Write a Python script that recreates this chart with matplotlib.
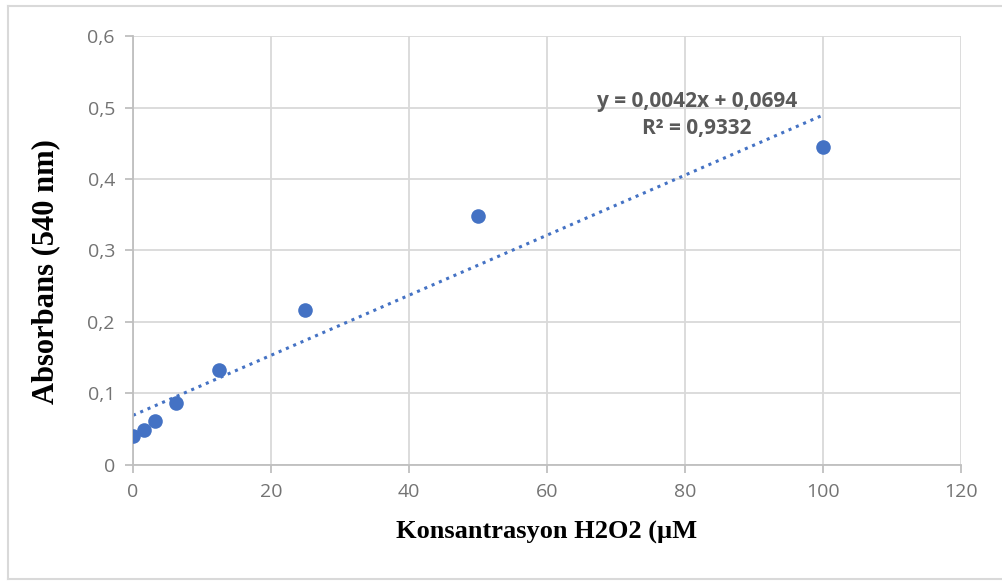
import matplotlib
matplotlib.use("Agg")
import matplotlib.pyplot as plt
from matplotlib.lines import Line2D
import numpy as np

# H2O2 standard curve
concentration = [0, 1.5625, 3.125, 6.25, 12.5, 25, 50, 100]
absorbance = [0.040, 0.049, 0.061, 0.087, 0.133, 0.217, 0.348, 0.445]
slope = 0.0042
intercept = 0.0694
r_squared = 0.9332

x_ticks = [0, 20, 40, 60, 80, 100, 120]
y_ticks = [0, 0.1, 0.2, 0.3, 0.4, 0.5, 0.6]

blue = "#4472C4"
grid_gray = "#D9D9D9"
tick_gray = "#737373"
eq_gray = "#595959"

fig = plt.figure(figsize=(10.03, 5.81), dpi=100)
ax = fig.add_axes([0.1326, 0.1997, 0.8255, 0.7383])

ax.set_xlim(0, 120)
ax.set_ylim(0, 0.6)
ax.set_xticks(x_ticks)
ax.set_yticks(y_ticks)
ax.set_xticklabels([str(v) for v in x_ticks])
ax.set_yticklabels(["0" if v == 0 else f"{v:.1f}".replace(".", ",") for v in y_ticks])

ax.grid(True, color=grid_gray, linewidth=1.3)
ax.set_axisbelow(True)
for side in ("top", "right"):
    ax.spines[side].set_visible(False)
for side in ("left", "bottom"):
    ax.spines[side].set_color("#BFBFBF")
    ax.spines[side].set_linewidth(1.3)
ax.tick_params(axis="both", colors="#BFBFBF", length=6, width=1.3,
               labelcolor=tick_gray, labelsize=14)
ax.tick_params(axis="x", pad=7)
ax.tick_params(axis="y", pad=7)
for lbl in ax.get_xticklabels() + ax.get_yticklabels():
    lbl.set_fontfamily("Open Sans")

# linear trend line
xfit = np.array([0, 100])
ax.plot(xfit, slope * xfit + intercept, linestyle=(0, (1, 1.6)),
        color=blue, linewidth=2.2, zorder=2)

ax.plot(concentration, absorbance, "o", color=blue, markersize=10.5,
        markeredgewidth=0, zorder=3)

ax.text(81.7, 0.509, f"y = {slope:.4f}x + {intercept:.4f}".replace(".", ","),
        ha="center", va="center", fontsize=15, fontweight="bold",
        color=eq_gray, family="Open Sans")
ax.text(81.7, 0.471, f"R² = {r_squared:.4f}".replace(".", ","),
        ha="center", va="center", fontsize=15, fontweight="bold",
        color=eq_gray, family="Open Sans")

ax.set_xlabel("Konsantrasyon H2O2 (µM", fontsize=19, fontweight="bold",
              family="Liberation Serif", color="black", labelpad=14)
ax.set_ylabel("Absorbans (540 nm)", fontsize=22, fontweight="bold",
              family="Liberation Serif", color="black")
ax.yaxis.set_label_coords(-0.088, 0.45)

# chart area frame
W, H = 1003, 581
frame = dict(color="#D9D9D9", linewidth=1.5, transform=fig.transFigure)
fig.add_artist(Line2D([8 / W, 1.0], [1 - 6 / H, 1 - 6 / H], **frame))
fig.add_artist(Line2D([8 / W, 8 / W], [1 - 6 / H, 1 - 579 / H], **frame))
fig.add_artist(Line2D([8 / W, 1.0], [1 - 579 / H, 1 - 579 / H], **frame))

fig.savefig("out.png", dpi=100)
